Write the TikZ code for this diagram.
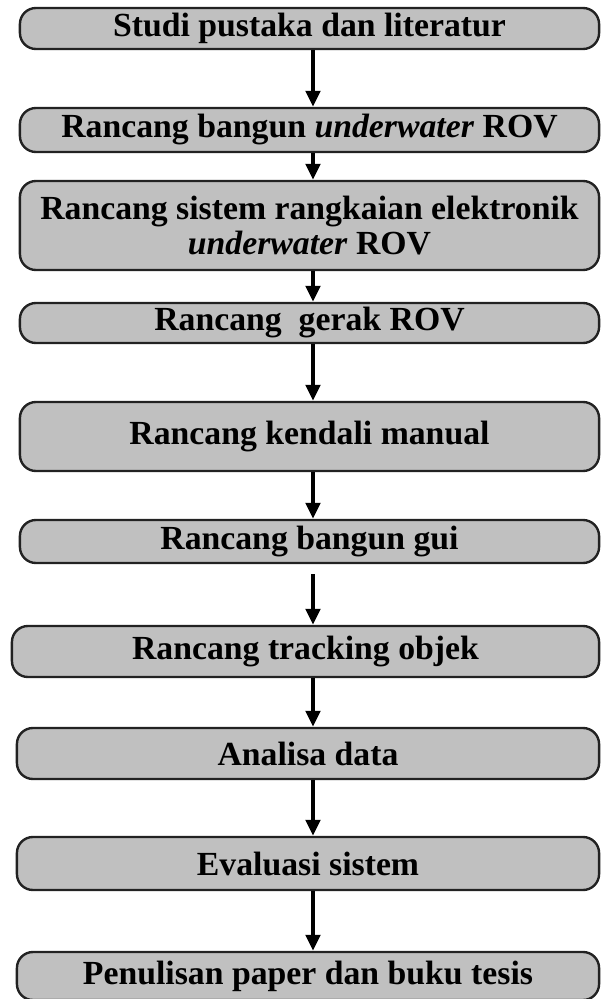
\documentclass[tikz,border=0pt]{standalone}
\usepackage{fontspec}
\setmainfont{Liberation Serif}
\usepackage{xcolor}
\usepackage{tikz}
\usetikzlibrary{arrows.meta, positioning}

\definecolor{boxgray}{RGB}{192,192,192}
\definecolor{edgegray}{RGB}{34,34,34}

\begin{document}
\begin{tikzpicture}[
    stepbox/.style={draw=edgegray, line width=1.7pt, fill=boxgray,
        rounded corners=0.4cm, inner sep=0pt, align=center,
        minimum width=14.475cm,
        font=\fontsize{24}{25}\selectfont\bfseries},
    flow/.style={line width=2.6pt, -{Triangle[width=0.36cm, length=0.4cm]}}
]

    % =================================================================
    % 1. KANVAS (satuan piksel dari gambar acuan)
    % =================================================================
    \begin{scope}[x=0.025cm, y=-0.025cm]
        \useasboundingbox (0,0) rectangle (600,999);
        \coordinate (ax) at (313,0);

        % =================================================================
        % 2. KOTAK-KOTAK TAHAPAN
        % =================================================================
        \node[stepbox, minimum height=1.025cm] (b1) at (309.5,28.5) {Studi pustaka dan literatur};
        \node[stepbox, minimum height=1.1cm] (b2) at (309.5,130) {Rancang bangun \textit{underwater} ROV};
        \node[stepbox, minimum height=2.225cm] (b3) at (309.5,225.5) {Rancang sistem rangkaian elektronik\\\textit{underwater} ROV};
        \node[stepbox, minimum height=1.0cm] (b4) at (309.5,323) {Rancang~ gerak ROV};
        \node[stepbox, minimum height=1.725cm] (b5) at (309.5,436.5) {Rancang kendali manual};
        \node[stepbox, minimum height=1.075cm] (b6) at (309.5,541.5) {Rancang bangun gui};
        \node[stepbox, minimum height=1.275cm, minimum width=14.675cm] (b7) at (305.5,651.5) {Rancang tracking objek};
        \node[stepbox, minimum height=1.275cm, minimum width=14.55cm] (b8) at (308,753.5) {Analisa data};
        \node[stepbox, minimum height=1.325cm, minimum width=14.55cm] (b9) at (308,863.5) {Evaluasi sistem};
        \node[stepbox, minimum height=1.2cm, minimum width=14.55cm] (b10) at (308,976) {Penulisan paper dan buku tesis};
    \end{scope}

    % =================================================================
    % 3. PANAH ALUR
    % =================================================================
    \draw[flow] (b1.south -| ax) -- (b2.north -| ax);
    \draw[flow] (b2.south -| ax) -- (b3.north -| ax);
    \draw[flow] (b3.south -| ax) -- (b4.north -| ax);
    \draw[flow] (b4.south -| ax) -- (b5.north -| ax);
    \draw[flow] (b5.south -| ax) -- (b6.north -| ax);
    \draw[flow, shorten <=0.25cm] (b6.south -| ax) -- (b7.north -| ax);
    \draw[flow] (b7.south -| ax) -- (b8.north -| ax);
    \draw[flow] (b8.south -| ax) -- (b9.north -| ax);
    \draw[flow] (b9.south -| ax) -- (b10.north -| ax);

\end{tikzpicture}
\end{document}
